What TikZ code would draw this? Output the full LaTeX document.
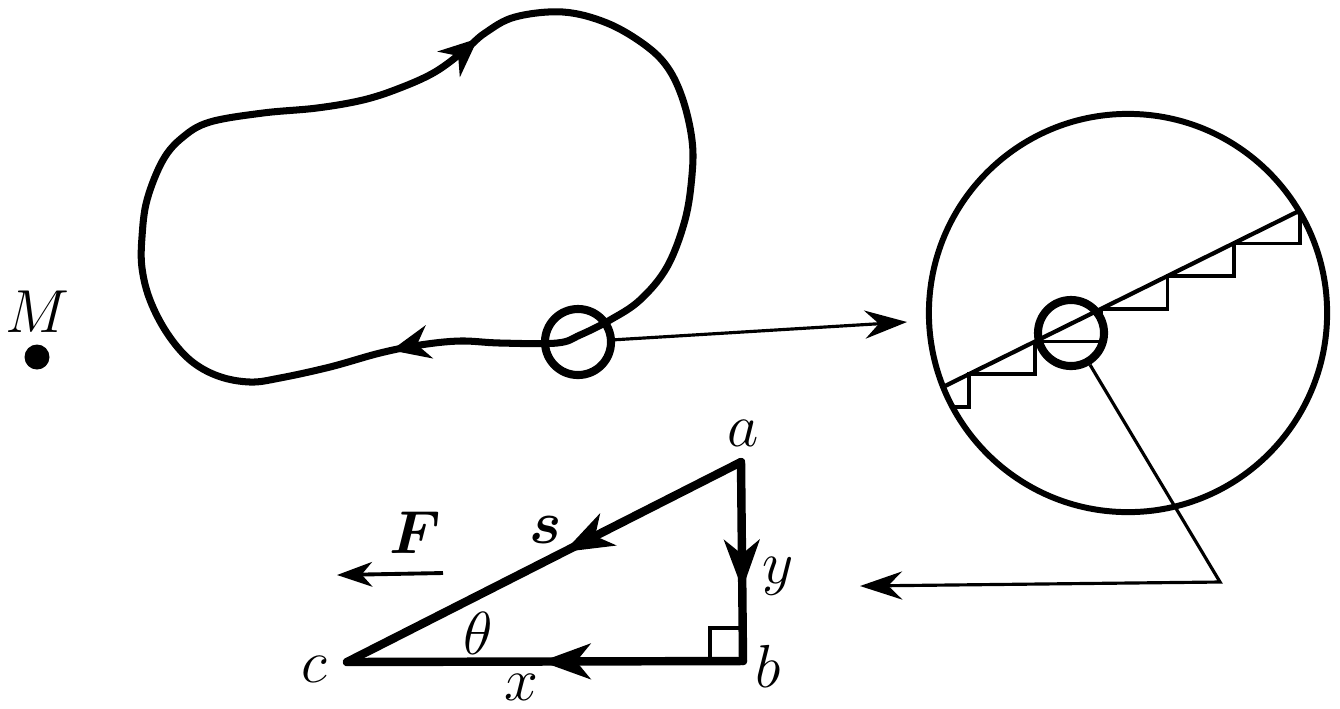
\documentclass[tikz,border=0pt]{standalone}
\usepackage{amsmath}
\usepackage{tkz-euclide}
\usetikzlibrary{arrows.meta,calc,decorations.markings}

\tikzset{
  loopline/.style={line width=2pt,line join=round},
  ringnode/.style={circle,draw,line width=2.3pt,minimum size=0.66cm,inner sep=0pt},
  zoomnode/.style={circle,draw,line width=1.7pt,minimum size=3.98cm,inner sep=0pt},
  pointer/.style={line width=0.9pt,-{Stealth[length=12pt,width=8pt,inset=4pt]}},
  farrow/.style={line width=1.1pt,-{Stealth[length=10pt,width=7pt,inset=3pt]}},
  sideline/.style={line width=2.4pt,line cap=round,line join=round},
  midarrow/.style={postaction=decorate,decoration={markings,
      mark=at position #1 with {\arrow{Stealth[length=14pt,width=10pt,inset=4pt]}}}},
  looparrows/.style={postaction=decorate,decoration={markings,
      mark=at position 0.073 with {\arrow{Stealth[length=11pt,width=9.5pt,inset=3.5pt]}},
      mark=at position 0.59 with {\arrow{Stealth[length=11pt,width=9.5pt,inset=3.5pt]}}}},
  stairline/.style={line width=1pt},
  slopeline/.style={line width=1.2pt},
  lettr/.style={inner sep=0pt}
}

\begin{document}
\begin{tikzpicture}[x=0.01cm,y=-0.01cm,font=\LARGE]
\useasboundingbox (0,0) rectangle (1340,708);

\tkzDefPoints{37/357/M,578/342/A,1128/313/O,1071/333/B}
\tkzDefPoints{741/462/a,743/661/b,347/662/c}
\tkzDefPoints{907/322/zA,1220/582/kB,860/586/tB,443/573/F1,337/575/F2}

% mass
\fill (M) circle[radius=12.5];
\node[lettr] (lblM) at (37,312) {$M$};

% closed path
\draw[loopline,looparrows] plot[smooth cycle,tension=0.6] coordinates {
  (557,343) (500,343) (460,341) (420,345) (380,353) (330,367) (280,378)
  (250,382) (218,376) (190,360) (167,333) (150,300) (142,268) (142,237)
  (147,200) (163,160) (183,137) (210,122) (263,113) (317,108) (363,100)
  (400,88) (435,72) (465,50) (485,33) (515,17) (563,12) (607,23) (645,45)
  (668,68) (683,100) (692,140) (692,175) (685,220) (667,267) (640,300)
  (610,320) (580,335)};
\node[ringnode] (ringA) at (A) {};

% magnified piece
\node[zoomnode] (zoomc) at (O) {};
\begin{scope}
\clip (O) circle[radius=199];
\draw[slopeline] (930,393.4) -- (1320,200.6);
\draw[stairline] (902.8,406.9) -- (969,406.9) -- (969,374.2) -- (1035.2,374.2)
  -- (1035.2,341.5) -- (1101.4,341.5) -- (1101.4,308.8) -- (1167.6,308.8)
  -- (1167.6,276.0) -- (1233.8,276.0) -- (1233.8,243.3) -- (1300,243.3)
  -- (1300,210.6);
\end{scope}
\node[ringnode] (ringB) at (B) {};

\draw[pointer] (ringA) -- (zA);
\draw[pointer] (ringB) -- (kB) -- (tB);

% triangle
\draw[sideline,midarrow=0.45] (a) -- (c);
\draw[sideline,midarrow=0.64] (a) -- (b);
\draw[sideline,midarrow=0.51] (b) -- (c);
\draw[line width=0.9pt] (743,628) -- (710,628) -- (710,661);

\draw[farrow] (F1) -- (F2);

\node[lettr] (lbla) at (743,433) {$a$};
\node[lettr] (lblb) at (768,666) {$b$};
\node[lettr] (lblc) at (314,669) {$c$};
\node[lettr] (lbls) at (546,530) {$\boldsymbol{s}$};
\node[lettr] (lblF) at (415,533) {$\boldsymbol{F}$};
\node[lettr] (lblt) at (478,633) {$\theta$};
\node[lettr] (lblx) at (521,687) {$x$};
\node[lettr] (lbly) at (778,576) {$y$};

\end{tikzpicture}
\end{document}
